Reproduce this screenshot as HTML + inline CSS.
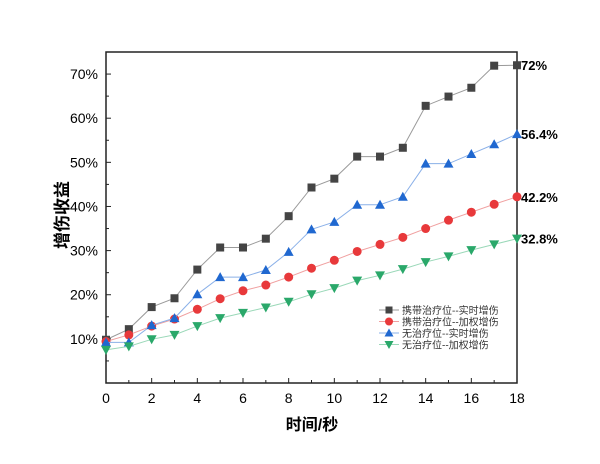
<!DOCTYPE html>
<html><head><meta charset="utf-8"><style>
body{margin:0;background:#fff}
svg text{font-family:"Liberation Sans","Noto Sans CJK SC",sans-serif}
</style></head><body>
<svg width="600" height="459" viewBox="0 0 600 459">
<g id="axes"></g><g id="series"></g><g id="legend"></g>
</svg>
<script>
const xCats=[0,1,2,3,4,5,6,7,8,9,10,11,12,13,14,15,16,17,18];
const carryReal=[9.8,12.2,17.2,19.2,25.7,30.7,30.7,32.7,37.8,44.3,46.3,51.3,51.3,53.3,62.8,64.9,66.9,71.9,72];
const carryWeighted=[9.4,10.9,12.9,14.5,16.7,19.1,20.9,22.2,24.0,26.0,27.8,29.8,31.4,33.0,35.0,36.9,38.7,40.5,42.2];
const noneReal=[9.2,9.2,13.1,14.7,20.1,24.0,24.0,25.6,29.7,34.8,36.5,40.4,40.4,42.2,49.7,49.7,51.9,54.1,56.4];
const noneWeighted=[7.5,8.3,9.9,10.9,12.9,14.7,15.9,17.1,18.4,20.1,21.5,23.2,24.4,25.8,27.4,28.7,30.1,31.4,32.7];
const yTicks=[10,20,30,40,50,60,70];
const xTicks=[0,2,4,6,8,10,12,14,16,18];
const endLabels=["72%","42.2%","56.4%","32.8%"];
const seriesNames=["携带治疗位--实时增伤","携带治疗位--加权增伤","无治疗位--实时增伤","无治疗位--加权增伤"];
const NS="http://www.w3.org/2000/svg";
const L=106,R=517,T=52,B=383;
const X=v=>L+(R-L)*v/18;
const Y=v=>B-(B-T)*v/75;
function mk(tag,attrs,parent,txt){const e=document.createElementNS(NS,tag);for(const k in attrs)e.setAttribute(k,attrs[k]);if(txt!==undefined)e.textContent=txt;parent.appendChild(e);return e;}
const ax=document.getElementById('axes');
let f=mk('rect',{x:L,y:T,width:R-L,height:B-T,fill:'none',stroke:'#222','stroke-width':1.5},ax);

for(let v=5;v<75;v+=5){mk('line',{x1:L,x2:L+(v%10==0?5:3),y1:Y(v),y2:Y(v),stroke:'#222'},ax);}
for(let v=1;v<18;v++){mk('line',{x1:X(v),x2:X(v),y1:B,y2:B-(v%2==0?5:3),stroke:'#222'},ax);}
yTicks.forEach(v=>{const t=mk('text',{x:L-8,y:Y(v)+5,'text-anchor':'end','font-size':14},ax,v+'%');
});
xTicks.forEach(v=>{const t=mk('text',{x:X(v),y:403,'text-anchor':'middle','font-size':14},ax,String(v));
});
let yt=mk('text',{x:0,y:0,transform:'translate(68,215) rotate(-90)','text-anchor':'middle','font-size':17,'font-weight':'bold'},ax,'增伤收益');

let xt=mk('text',{x:312,y:430,'text-anchor':'middle','font-size':16,'font-weight':'bold'},ax,'时间/秒');

const all=[carryReal,carryWeighted,noneReal,noneWeighted];
const cols=['#444444','#e8393b','#2068d0','#2aa86a'];
const lineCols=['#9a9a9a','#f0a0a0','#8ab0e8','#9ad8b8'];
const shapes=['sq','ci','tu','td'];
const sg=document.getElementById('series');
function marker(g,s,x,y,c,r){
 if(s=='sq')return mk('rect',{x:x-r,y:y-r,width:2*r,height:2*r,fill:c},g);
 if(s=='ci')return mk('circle',{cx:x,cy:y,r:r+0.5,fill:c},g);
 if(s=='tu')return mk('polygon',{points:`${x},${y-r-1} ${x-r-1},${y+r} ${x+r+1},${y+r}`,fill:c},g);
 return mk('polygon',{points:`${x},${y+r+1} ${x-r-1},${y-r} ${x+r+1},${y-r}`,fill:c},g);
}
all.forEach((d,i)=>{
 const g=mk('g',{},sg);
 
 const p=mk('polyline',{points:d.map((v,j)=>X(xCats[j])+','+Y(v)).join(' '),fill:'none',stroke:lineCols[i],'stroke-width':1},g);
 
 d.forEach((v,j)=>{const m=marker(g,shapes[i],X(xCats[j]),Y(v),cols[i],4);
  });
 const lt=mk('text',{x:521,y:Y(d[d.length-1])+5,'font-size':13,'font-weight':'bold'},g,endLabels[i]);
 
});
const lg=document.getElementById('legend');
seriesNames.forEach((n,i)=>{
 const y=310+i*11.5;
 const g=mk('g',{},lg);
 
 mk('line',{x1:379,x2:399,y1:y,y2:y,stroke:lineCols[i]},g);
 marker(g,shapes[i],389,y,cols[i],3.5);
 mk('text',{x:402,y:y+4,'font-size':10,fill:'#333'},g,n);
});
</script>
</body></html>
